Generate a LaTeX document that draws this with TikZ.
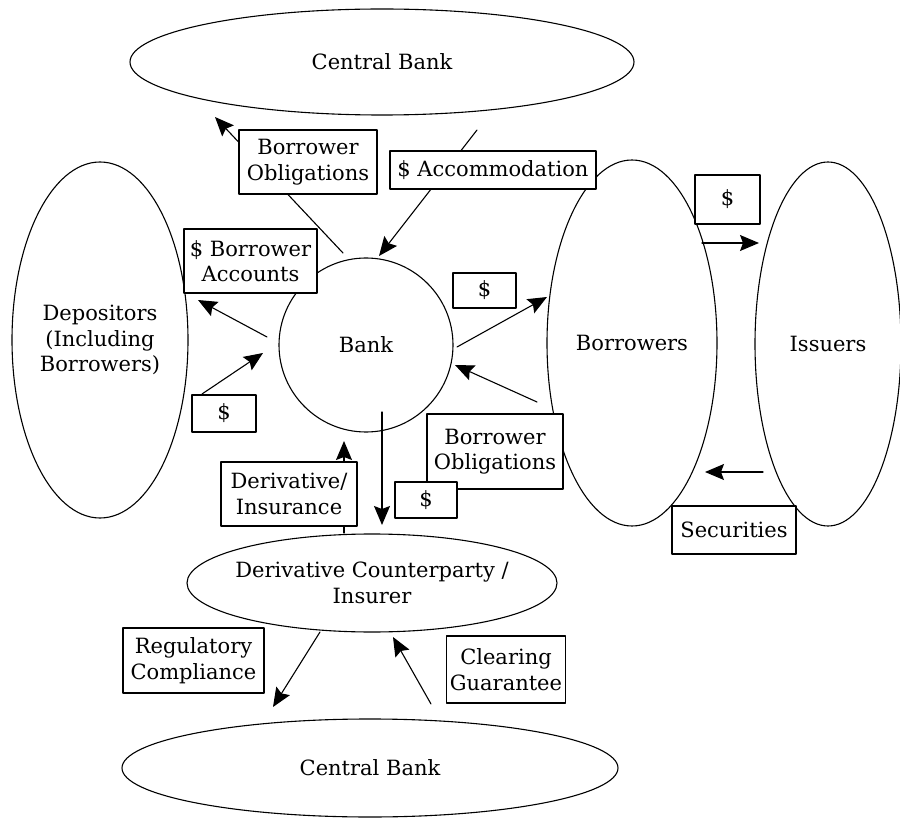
\documentclass[tikz,border=0pt]{standalone}
\usepackage{fontspec}
\setmainfont{DejaVu Serif}
\usetikzlibrary{arrows.meta}
\usetikzlibrary{shapes.geometric}

\tikzset{
  blob/.style={draw, ellipse, inner sep=0pt, align=center, line width=1.1pt},
  box/.style={draw, fill=white, rectangle, inner xsep=3pt, inner ysep=0pt, align=center, line width=1.1pt},
  flow/.style={line width=1.1pt, -{Stealth[length=19pt, width=16pt, inset=3pt]}}
}

\begin{document}
\begin{tikzpicture}[line cap=round,line join=round, x=1pt,y=-1pt, font=\fontsize{21}{25.5}\selectfont]
\useasboundingbox (0,0) rectangle (900,818);
% parties
\node[blob, minimum width=504, minimum height=106] (cbtop) at (382,62) {Central Bank};
\node[blob, minimum width=176, minimum height=356] (dep) at (100,340) {Depositors\\(Including\\Borrowers)};
\node[blob, minimum width=174, minimum height=174] (bank) at (366,345) {Bank};
\node[blob, minimum width=170, minimum height=366] (borr) at (632,343) {Borrowers};
\node[blob, minimum width=146, minimum height=364] (iss) at (828,344) {Issuers};
\node[blob, minimum width=370, minimum height=98,
  label={[align=center]center:Derivative Counterparty /\\Insurer}] (dcp) at (372,583) {};
\node[blob, minimum width=496, minimum height=98] (cbbot) at (370,768) {Central Bank};
% arrow ends
\coordinate (a1s) at (343,253); \coordinate (a1e) at (215,117);
\coordinate (a2s) at (477,130); \coordinate (a2e) at (379,256);
\coordinate (a3s) at (267,337); \coordinate (a3e) at (198,300);
\coordinate (a4s) at (202,394); \coordinate (a4e) at (263,353);
\coordinate (a5s) at (457,347); \coordinate (a5e) at (547,297);
\coordinate (a6s) at (537,402); \coordinate (a6e) at (455,365);
\coordinate (a7s) at (702,243); \coordinate (a7e) at (759,243);
\coordinate (a8s) at (763,472); \coordinate (a8e) at (705,472);
\coordinate (a9s) at (382,412); \coordinate (a9e) at (382,525);
\coordinate (a10s) at (344,533); \coordinate (a10e) at (344,441);
\coordinate (a11s) at (320,632); \coordinate (a11e) at (273,707);
\coordinate (a12s) at (431,704); \coordinate (a12e) at (393,637);
\draw[flow] (a1s) -- (a1e);
\draw[flow] (a2s) -- (a2e);
\draw[flow] (a3s) -- (a3e);
\draw[flow] (a4s) -- (a4e);
\draw[flow] (a5s) -- (a5e);
\draw[flow] (a6s) -- (a6e);
\draw[flow] (a7s) -- (a7e);
\draw[flow] (a8s) -- (a8e);
\draw[flow] (a9s) -- (a9e);
\draw[flow] (a10s) -- (a10e);
\draw[flow] (a11s) -- (a11e);
\draw[flow] (a12s) -- (a12e);
% labels
\node[box, minimum width=138, minimum height=64] (oblup) at (308,162) {Borrower\\Obligations};
\node[box, minimum width=206, minimum height=38] (accom) at (493,170) {\$ Accommodation};
\node[box, minimum width=133, minimum height=64] (bacc) at (250.5,261) {\$ Borrower\\Accounts};
\node[box, minimum width=63, minimum height=35] (cashr) at (484.5,290.5) {\$};
\node[box, minimum width=64, minimum height=37] (cashl) at (224,413.5) {\$};
\node[box, minimum width=65, minimum height=49] (cashi) at (727.5,199.5) {\$};
\node[box, minimum width=136, minimum height=75] (obldn) at (495,451.5) {Borrower\\Obligations};
\node[box, minimum width=62, minimum height=36] (cashd) at (426,500) {\$};
\node[box, minimum width=136, minimum height=64] (deriv) at (289,494) {Derivative/\\Insurance};
\node[box, minimum width=124, minimum height=48] (secur) at (734,530) {Securities};
\node[box, minimum width=141, minimum height=65] (regc) at (193.5,660.5) {Regulatory\\Compliance};
\node[box, minimum width=98, minimum height=67] (clrg) at (506,669.5) {Clearing\\Guarantee};
\end{tikzpicture}
\end{document}
